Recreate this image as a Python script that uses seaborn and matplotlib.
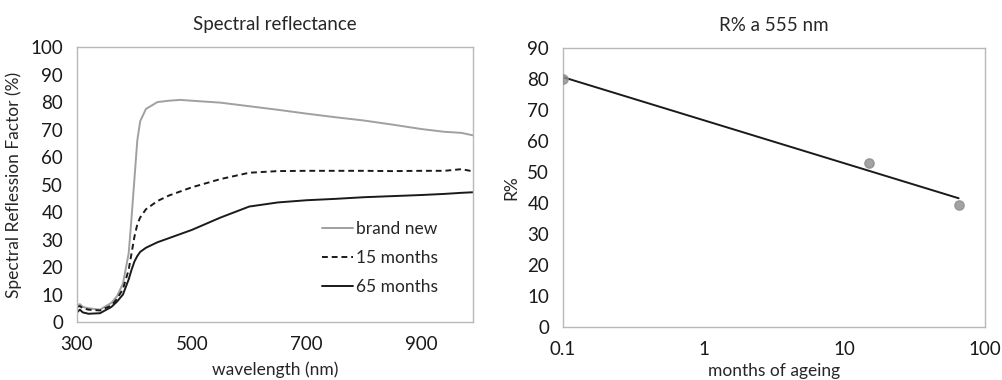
import numpy as np
import pandas as pd
import matplotlib
matplotlib.use("Agg")
import matplotlib.pyplot as plt
import seaborn as sns

# spectral curves
wavelength = [300, 305, 310, 320, 340, 360, 370, 380, 390, 395, 400, 405, 410, 420, 440,
              460, 480, 500, 550, 600, 650, 700, 750, 800, 850, 900, 940, 970, 990]
brand_new = [6.0, 6.5, 5.5, 5.0, 4.5, 7.0, 9.5, 14.0, 25.0, 38.0, 52.0, 66.0, 73.0, 77.5, 80.0,
             80.5, 80.8, 80.5, 79.8, 78.5, 77.2, 75.8, 74.5, 73.3, 71.8, 70.2, 69.2, 68.8, 67.9]
months_15 = [5.5, 5.8, 5.0, 4.5, 4.2, 6.0, 8.5, 12.0, 19.0, 25.0, 31.0, 35.5, 38.0, 41.0, 44.0,
             46.0, 47.5, 49.0, 52.0, 54.3, 54.9, 55.0, 55.0, 55.0, 54.9, 55.0, 55.0, 55.6, 54.8]
months_65 = [3.5, 4.5, 3.5, 3.0, 3.2, 5.5, 7.5, 10.0, 15.5, 19.0, 22.0, 24.0, 25.5, 27.0, 29.0,
             30.5, 32.0, 33.5, 38.0, 42.0, 43.5, 44.3, 44.8, 45.4, 45.8, 46.2, 46.6, 47.0, 47.2]

# R% at 555 nm vs months of ageing
ageing_months = [0.1, 15, 65]
r555 = [80.0, 53.0, 39.5]

spectra = pd.DataFrame({
    "wavelength": wavelength * 3,
    "R": brand_new + months_15 + months_65,
    "sample": ["brand new"] * len(wavelength) + ["15 months"] * len(wavelength)
              + ["65 months"] * len(wavelength),
})
ageing = pd.DataFrame({"months": ageing_months, "R": r555})

sns.set_style("white")
plt.rcParams["font.family"] = ["Lato", "DejaVu Sans"]

fig = plt.figure(figsize=(10.03, 3.8), dpi=100)
ax1 = fig.add_axes([0.0768, 0.1526, 0.3948, 0.7234])
ax2 = fig.add_axes([0.5613, 0.1395, 0.4207, 0.7342])

sns.lineplot(
    data=spectra, x="wavelength", y="R", hue="sample", style="sample",
    palette={"brand new": "#a0a0a0", "15 months": "#1a1a1a", "65 months": "#1a1a1a"},
    dashes={"brand new": "", "15 months": (3, 2), "65 months": ""},
    linewidth=1.4, ax=ax1,
)
ax1.set_xlim(300, 990)
ax1.set_ylim(0, 100)
ax1.set_xticks([300, 500, 700, 900])
ax1.set_yticks(range(0, 101, 10))
ax1.set_xlabel("wavelength (nm)", fontsize=12.5, labelpad=6)
ax1.set_ylabel("Spectral Reflession Factor (%)", fontsize=12.5, labelpad=6)
ax1.set_title("Spectral reflectance", fontsize=13.5, pad=12)
ax1.legend(loc="lower right", bbox_to_anchor=(0.95, 0.04), frameon=False, fontsize=12.5,
           handlelength=1.8, handletextpad=0.15, labelspacing=0.75)

sns.regplot(
    data=ageing, x="months", y="R", logx=True, ci=None, ax=ax2,
    scatter_kws={"color": "#8c8c8c", "s": 45, "zorder": 3},
    line_kws={"color": "#1a1a1a", "linewidth": 1.4},
)
ax2.set_xscale("log")
ax2.set_xlim(0.1, 100)
ax2.set_ylim(0, 90)
ax2.set_xticks([0.1, 1, 10, 100])
ax2.set_xticklabels(["0.1", "1", "10", "100"])
ax2.minorticks_off()
ax2.set_yticks(range(0, 91, 10))
ax2.set_xlabel("months of ageing", fontsize=12.5, labelpad=4)
ax2.set_ylabel("R%", fontsize=12.5, labelpad=6)
ax2.set_title("R% a 555 nm", fontsize=13.5, pad=12)

for ax in (ax1, ax2):
    for s in ax.spines.values():
        s.set_visible(True)
        s.set_color("#b8b8b8")
        s.set_linewidth(1.0)
    ax.tick_params(axis="both", length=0, labelsize=13.5, pad=10, colors="#1a1a1a")

fig.savefig("out.png", dpi=100)
